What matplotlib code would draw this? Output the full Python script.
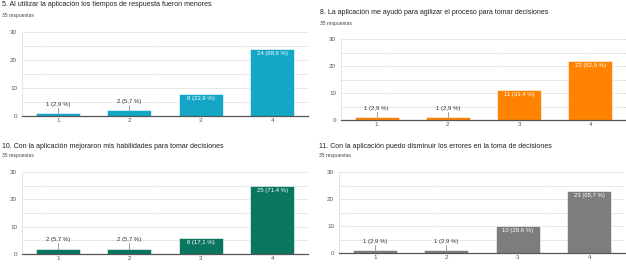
import matplotlib.pyplot as plt
from matplotlib.ticker import MultipleLocator

plt.rcParams['font.family'] = ['Liberation Sans', 'DejaVu Sans']

W, H = 626, 264

categories = ["1", "2", "3", "4"]

titles = [
    "5. Al utilizar la aplicación los tiempos de respuesta fueron menores",
    "8. La aplicación me ayudó para agilizar el proceso para tomar decisiones",
    "10. Con la aplicación mejoraron mis habilidades para tomar decisiones",
    "11. Con la aplicación puedo disminuir los errores en la toma de decisiones",
]
subtitle = "35 respuestas"

counts_q5 = [1, 2, 8, 24]
counts_q8 = [1, 1, 11, 22]
counts_q10 = [2, 2, 6, 25]
counts_q11 = [1, 1, 10, 23]

pct_q5 = ["2,9", "5,7", "22,9", "68,6"]
pct_q8 = ["2,9", "2,9", "31,4", "62,9"]
pct_q10 = ["5,7", "5,7", "17,1", "71,4"]
pct_q11 = ["2,9", "2,9", "28,6", "65,7"]

colors = ["#13a6c6", "#ff8300", "#0b7660", "#7d7d7d"]

# panel layout in pixels: axes (left, right, top(30), bottom(0)), title pos
panels = [
    dict(ax=(22, 308, 32, 116), title=(2, 5), sub=(2, 15)),
    dict(ax=(341, 626, 39, 120), title=(320, 13), sub=(320, 23)),
    dict(ax=(22, 308, 172, 254), title=(2, 146), sub=(2, 155)),
    dict(ax=(339, 625, 172, 253), title=(319, 146), sub=(319, 155)),
]

data = [(counts_q5, pct_q5), (counts_q8, pct_q8), (counts_q10, pct_q10), (counts_q11, pct_q11)]

fig = plt.figure(figsize=(W / 100, H / 100), dpi=100)
fig.patch.set_facecolor("white")

for i, (counts, pcts) in enumerate(data):
    p = panels[i]
    l, r, t, b = p["ax"]
    # axes cover y 0..30
    ax = fig.add_axes([l / W, 1 - b / H, (r - l) / W, (b - t) / H])
    x = range(1, 5)
    ax.bar(x, counts, width=0.62, color=colors[i], edgecolor="white", linewidth=0.4, zorder=3)
    ax.set_xlim(0.5, 4.5)
    ax.set_ylim(0, 30)
    ax.set_xticks(list(x))
    ax.set_xticklabels(categories)
    ax.yaxis.set_major_locator(MultipleLocator(10))
    ax.yaxis.set_minor_locator(MultipleLocator(5))
    ax.grid(True, which="both", axis="y", color="#bdbdbd", linestyle=(0, (1, 1.5)), linewidth=0.6, zorder=0)
    ax.tick_params(axis="x", length=0, labelsize=4.5, labelcolor="#555555", pad=1.5)
    ax.tick_params(axis="y", length=0, labelsize=4.5, labelcolor="#555555", pad=3.5)
    ax.tick_params(axis="y", which="minor", length=0)
    for s in ["top", "right"]:
        ax.spines[s].set_visible(False)
    ax.spines["left"].set_color("#d0d0d0")
    ax.spines["left"].set_linestyle((0, (1, 1.5)))
    ax.spines["left"].set_linewidth(0.5)
    ax.spines["bottom"].set_color("#555555")
    ax.spines["bottom"].set_linewidth(0.9)
    ax.spines["bottom"].set_zorder(4)

    for xi, c, pc in zip(x, counts, pcts):
        label = f"{c} ({pc} %)"
        if c >= 5:
            ax.text(xi, c - 0.8, label, ha="center", va="top", fontsize=4.3, color="white", zorder=5)
        else:
            ax.plot([xi, xi], [c, c + 2], color="#777777", linewidth=0.5, zorder=4)
            ax.text(xi, c + 2.3, label, ha="center", va="bottom", fontsize=4.3, color="#333333", zorder=5)

    tx, ty = p["title"]
    sx, sy = p["sub"]
    fig.text(tx / W, 1 - ty / H, titles[i], ha="left", va="center", fontsize=5.0, color="#202020")
    fig.text(sx / W, 1 - sy / H, subtitle, ha="left", va="center", fontsize=3.6, color="#444444")

fig.savefig("out.png", dpi=100)
